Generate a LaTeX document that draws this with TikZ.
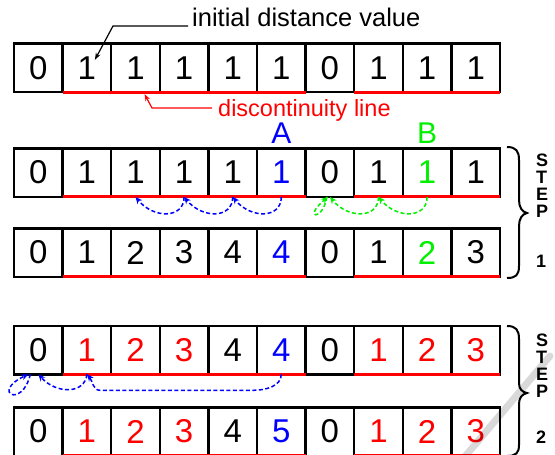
\documentclass[tikz,border=0pt]{standalone}
\usepackage{fontspec}
\setmainfont{Liberation Sans}
\usetikzlibrary{arrows.meta}
\definecolor{pblue}{RGB}{0,0,255}
\definecolor{pgreen}{RGB}{0,240,0}
\definecolor{pred}{RGB}{255,0,0}
\begin{document}
\begin{tikzpicture}[x=1pt,y=-1pt,
  cell/.style={draw=black, line width=2.4pt, minimum width=48.6pt, minimum height=48.6pt,
    inner sep=0pt, outer sep=0pt, font=\fontsize{33}{33}\selectfont},
  redline/.style={draw=pred, line width=3pt},
  dasharr/.style={line width=1.5pt, dash pattern=on 4pt off 2.5pt, -{Stealth[length=7pt,width=6pt]}},
  lbl/.style={inner sep=0pt, font=\fontsize{24}{24}\selectfont},
  steplbl/.style={inner sep=0pt, align=left, font=\bfseries\fontsize{18}{17}\selectfont},
  bracestyle/.style={draw=black, line width=2pt}
]
\useasboundingbox (0,0) rectangle (555,455);
% row 1
\foreach \v/\c [count=\i from 0] in {0/black,1/black,1/black,1/black,1/black,1/black,0/black,1/black,1/black,1/black}
  \node[cell,text=\c] (r1c\i) at ({38.3+48.6*\i},67.8) {\v};
% row 2
\foreach \v/\c [count=\i from 0] in {0/black,1/black,1/black,1/black,1/black,1/pblue,0/black,1/black,1/pgreen,1/black}
  \node[cell,text=\c] (r2c\i) at ({38.3+48.6*\i},172.6) {\v};
% row 3
\foreach \v/\c [count=\i from 0] in {0/black,1/black,2/black,3/black,4/black,4/pblue,0/black,1/black,2/pgreen,3/black}
  \node[cell,text=\c] (r3c\i) at ({38.3+48.6*\i},252.6) {\v};
% row 4
\foreach \v/\c [count=\i from 0] in {0/black,1/pred,2/pred,3/pred,4/black,4/pblue,0/black,1/pred,2/pred,3/pred}
  \node[cell,text=\c] (r4c\i) at ({38.3+48.6*\i},350) {\v};
% row 5
\foreach \v/\c [count=\i from 0] in {0/black,1/pred,2/pred,3/pred,4/black,5/pblue,0/black,1/pred,2/pred,3/pred}
  \node[cell,text=\c] (r5c\i) at ({38.3+48.6*\i},431.6) {\v};
% discontinuity lines
\foreach \r in {1,2,3,4,5}{
  \draw[redline] (r\r c1.south west) -- (r\r c5.south east);
  \draw[redline] (r\r c7.south west) -- (r\r c9.south east);
}
% labels
\node[lbl, font=\fontsize{25.5}{25.5}\selectfont, anchor=base west] (init) at (192,27) {initial distance value};
\coordinate (initk) at (113,26);
\draw[line width=1.2pt, -{Stealth[length=7pt,width=5pt]}] ([xshift=-4pt,yshift=1pt]init.base west) -- (initk) -- ([xshift=8pt,yshift=8pt]r1c1.center);
\node[lbl, font=\fontsize{23.5}{23.5}\selectfont, text=pred, anchor=base west] (disc) at (218,116) {discontinuity line};
\coordinate (disck) at (152,108);
\draw[line width=1.2pt, pred, -{Stealth[length=7pt,width=5pt]}] ([xshift=-6pt,yshift=8pt]disc.base west) -- (disck) -- ([xshift=9pt,yshift=-2pt]r1c2.south);
\node[lbl, text=pblue, font=\fontsize{30}{30}\selectfont] (A) at ([yshift=15pt]r2c5.north) {A};
\node[lbl, text=pgreen, font=\fontsize{30}{30}\selectfont] (B) at ([yshift=15pt]r2c8.north) {B};
% step 1 arrows
\draw[dasharr, pblue] (r2c5.south) .. controls +(0,22) and +(18,22) .. (r2c4.south);
\draw[dasharr, pblue] (r2c4.south) .. controls +(0,22) and +(18,22) .. (r2c3.south);
\draw[dasharr, pblue] (r2c3.south) .. controls +(0,22) and +(18,22) .. (r2c2.south);
\draw[dasharr, pgreen] (r2c8.south) .. controls +(0,22) and +(18,22) .. (r2c7.south);
\draw[dasharr, pgreen] (r2c7.south) .. controls +(0,22) and +(18,22) .. (r2c6.south);
\draw[dasharr, pgreen] ([xshift=-3pt]r2c6.south) .. controls +(-4,25) and +(-26,22) .. ([xshift=-2pt]r2c6.south);
% step 2 arrows
\coordinate (k1) at ([xshift=-28pt,yshift=-16pt]r4c5.south);
\coordinate (k2) at ([xshift=13pt,yshift=-16pt]r4c1.south);
\draw[dasharr, pblue] (r4c5.south) .. controls +(0,12) and +(12,0) .. (k1) -- (k2) .. controls +(-7,0) and +(6,7) .. (r4c1.south);
\draw[dasharr, pblue] (r4c1.south) .. controls +(-2,20) and +(18,20) .. (r4c0.south);
\draw[dasharr, pblue] ([xshift=-8pt]r4c0.south) .. controls +(-8,35) and +(-38,18) .. ([xshift=-10pt]r4c0.south);
% braces
\draw[bracestyle] (507,147) .. controls (516,147) and (519,151) .. (519,160) -- (519,200)
  .. controls (519,207) and (522,212) .. (527,213) .. controls (522,214) and (519,219) .. (519,226)
  -- (519,266) .. controls (519,275) and (516,278) .. (507,278);
\draw[bracestyle] (507,326) .. controls (516,326) and (519,330) .. (519,339) -- (519,383)
  .. controls (519,389) and (522,392) .. (527,393) .. controls (522,394) and (519,398) .. (519,404)
  -- (519,445) .. controls (519,453) and (516,456) .. (507,456);
\node[steplbl, anchor=north west] (s1) at (536,154) {S\\T\\E\\P\\[33pt]1};
\node[steplbl, anchor=north west] (s2) at (536,334) {S\\T\\E\\P\\[29pt]2};
% gray streak
\draw[line width=7pt, black, opacity=0.15, line cap=round] (462,460) -- (550,356);
\end{tikzpicture}
\end{document}
